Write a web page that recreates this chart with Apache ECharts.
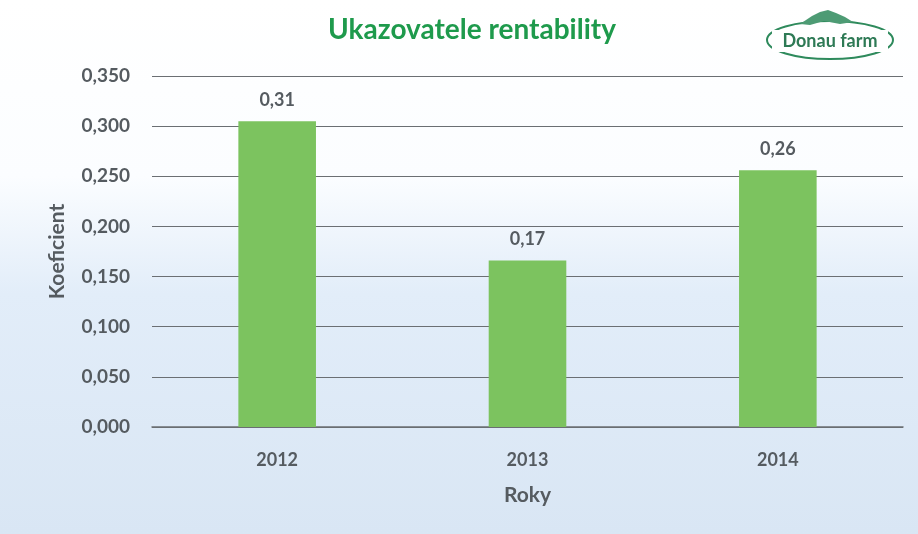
<!DOCTYPE html>
<html><head><meta charset="utf-8">
<script src="https://cdn.jsdelivr.net/npm/echarts@6/dist/echarts.min.js"></script>
<style>html,body{margin:0;padding:0;}#c{width:918px;height:534px;}</style>
</head><body><div id="c"></div>
<script>
const categories = ['2012', '2013', '2014'];
const values = [0.305, 0.166, 0.256];
const valueLabels = ['0,31', '0,17', '0,26'];
const yTicks = [0, 0.05, 0.1, 0.15, 0.2, 0.25, 0.3, 0.35];

const chart = echarts.init(document.getElementById('c'));
const font = 'Lato, "Open Sans", sans-serif';
chart.setOption({
  backgroundColor: {
    type: 'linear', x: 0, y: 0, x2: 0, y2: 1,
    colorStops: [
      {offset: 0, color: '#ffffff'},
      {offset: 0.33, color: '#fbfdff'},
      {offset: 0.55, color: '#e2edf9'},
      {offset: 1, color: '#d9e6f4'}
    ]
  },
  title: {
    text: 'Ukazovatele rentability',
    left: 467, top: 11, textAlign: 'center',
    textStyle: {color: '#1e9a4c', fontSize: 28, fontWeight: 'bold', fontFamily: font}
  },
  grid: {left: 152, right: 15, top: 76, bottom: 107},
  xAxis: {
    type: 'category', data: categories,
    name: 'Roky', nameLocation: 'middle', nameGap: 58,
    nameTextStyle: {color: '#555b60', fontSize: 21, fontWeight: 'bold', fontFamily: font},
    axisLine: {lineStyle: {color: '#6b6f73', width: 1.5}},
    axisTick: {show: false},
    axisLabel: {color: '#555b60', fontSize: 18, fontWeight: 'bold', margin: 24, fontFamily: font}
  },
  yAxis: {
    type: 'value', min: 0, max: 0.35, interval: 0.05,
    name: 'Koeficient', nameLocation: 'middle', nameGap: 84, nameRotate: 90,
    nameTextStyle: {color: '#555b60', fontSize: 21, fontWeight: 'bold', fontFamily: font},
    axisLine: {show: false}, axisTick: {show: false},
    splitLine: {lineStyle: {color: '#6b6f73', width: 1.2}},
    axisLabel: {
      color: '#555b60', fontSize: 19, fontWeight: 'bold', margin: 22, fontFamily: font,
      formatter: v => v.toFixed(3).replace('.', ',')
    }
  },
  series: [{
    type: 'bar', data: values, barWidth: '31%',
    itemStyle: {color: '#7cc35f'},
    label: {
      show: true, position: 'top', distance: 12,
      color: '#555b60', fontSize: 18, fontWeight: 'bold', fontFamily: font,
      formatter: p => valueLabels[p.dataIndex]
    }
  }],
  graphic: [
    {type: 'ellipse', shape: {cx: 830, cy: 40, rx: 63, ry: 19},
     style: {fill: 'none', stroke: '#2e8a5c', lineWidth: 2}},
    {type: 'polygon', shape: {points: [[800,24],[812,16],[820,12],[828,10],[836,13],[845,17],[853,22],[840,24],[824,21],[810,25]]},
     style: {fill: '#4d9b74'}},
    {type: 'rect', shape: {x: 772, y: 30, width: 116, height: 22}, style: {fill: '#ffffff'}},
    {type: 'text', x: 830, y: 41, style: {text: 'Donau farm', fill: '#2e7a55', fontSize: 18, fontWeight: 'bold', fontFamily: font, align: 'center', verticalAlign: 'middle'}}
  ]
});
</script></body></html>
